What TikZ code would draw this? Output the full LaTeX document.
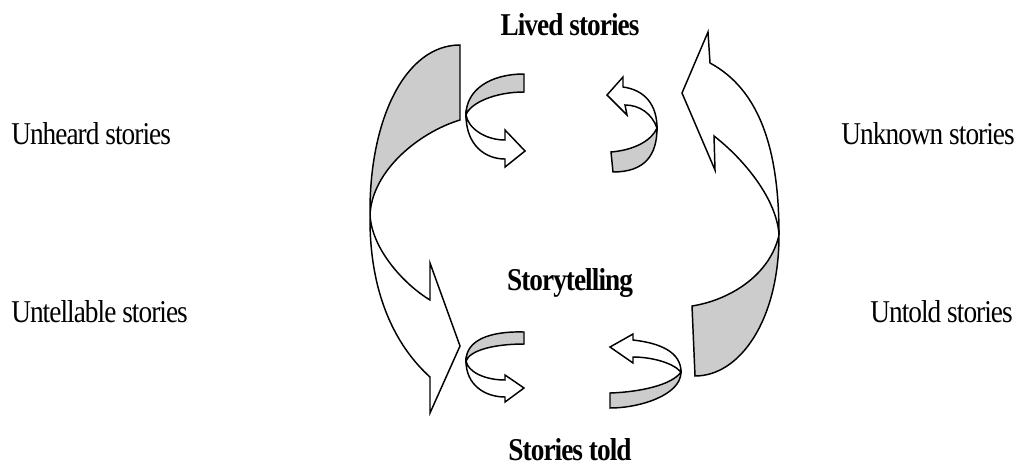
\documentclass[tikz,border=0pt]{standalone}
\usepackage{fontspec}
\setmainfont{Liberation Serif}[FakeStretch=0.86, LetterSpace=-3]
\usepackage{tikz}
\definecolor{backgray}{RGB}{204,204,204}
\definecolor{edgeblack}{RGB}{0,0,0}

\begin{document}
\begin{tikzpicture}[
    x=0.75pt, y=-0.75pt,
    back/.style={draw=edgeblack, fill=backgray, line width=1.1pt},
    front/.style={draw=edgeblack, fill=white, line width=1.1pt},
    side/.style={inner sep=0pt, anchor=base west, font=\fontsize{23.8}{28}\selectfont},
    sider/.style={side, anchor=base east},
    centre/.style={inner sep=0pt, anchor=base, font=\fontsize{23.8}{28}\selectfont\bfseries}
]
\useasboundingbox (0,0) rectangle (1019,465);

\node[centre] (lived) at (570,35) {Lived stories};
\node[centre] (telling) at (570,290) {Storytelling};
\node[centre] (told) at (570,460) {Stories told};

\node[side] (unheard) at (11,144) {Unheard stories};
\node[side] (untellable) at (11,322) {Untellable stories};
\node[sider] (unknown) at (1015,144) {Unknown stories};
\node[sider] (untold) at (1013,322) {Untold stories};

% big arrow, left
\draw[back] (460,45) .. controls (405,45) and (369,120) .. (370,215)
    .. controls (372,170) and (420,132) .. (460,120) -- cycle;
\draw[front] (370,215) .. controls (369,300) and (400,350) .. (430,377)
    -- (430,413) -- (460,346) -- (430,263) -- (430,300)
    .. controls (405,285) and (372,250) .. (370,215) -- cycle;

% big arrow, right
\draw[back] (779,235) .. controls (779,320) and (740,376) .. (695,376)
    -- (692,306) .. controls (730,300) and (770,275) .. (779,235) -- cycle;
\draw[front] (710,63) .. controls (760,90) and (779,150) .. (779,235)
    .. controls (777,200) and (745,160) .. (714,136)
    -- (715,170) -- (682,93) -- (708,32) -- cycle;

% small arrows
\draw[back] (524,74) .. controls (490,74) and (466,90) .. (466,115)
    .. controls (470,103) and (495,92) .. (524,92) -- cycle;
\draw[front] (466,115) .. controls (466,145) and (485,159) .. (505,159)
    -- (505,167) -- (525,151) -- (505,130) -- (505,140)
    .. controls (485,140) and (468,128) .. (466,115) -- cycle;

\draw[back] (657,128) .. controls (657,155) and (645,172) .. (613,172)
    -- (611,152) .. controls (635,150) and (652,140) .. (657,128) -- cycle;
\draw[front] (623,87) .. controls (645,90) and (657,105) .. (657,128)
    .. controls (652,114) and (640,105) .. (625,105)
    -- (627,115) -- (607,95) -- (623,77) -- cycle;

\draw[back] (524,332) .. controls (490,331) and (466,340) .. (466,361)
    .. controls (470,350) and (495,344) .. (524,344) -- cycle;
\draw[front] (466,361) .. controls (466,385) and (485,397) .. (505,397)
    -- (505,402) -- (524,388) -- (505,375) -- (505,380)
    .. controls (485,380) and (468,372) .. (466,361) -- cycle;

\draw[back] (681,372) .. controls (681,395) and (640,408) .. (610,408)
    -- (610,393) .. controls (640,392) and (672,385) .. (681,372) -- cycle;
\draw[front] (633,340) .. controls (660,343) and (681,352) .. (681,372)
    .. controls (672,362) and (650,357) .. (633,357)
    -- (633,363) -- (610,347) -- (633,334) -- cycle;

\end{tikzpicture}
\end{document}
